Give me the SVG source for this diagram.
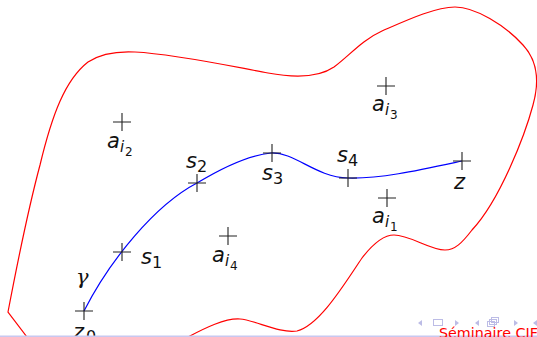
<svg xmlns="http://www.w3.org/2000/svg" width="537" height="337" viewBox="0 0 537 337">
<style>
.cr{stroke:#222;stroke-width:1.1;fill:none}
.m{font-family:"DejaVu Sans",sans-serif;font-style:italic;font-size:21px;fill:#111}
.s{font-family:"DejaVu Sans",sans-serif;font-size:16px;fill:#111}
.si{font-family:"DejaVu Sans",sans-serif;font-style:italic;font-size:15px;fill:#111}
.ss{font-family:"DejaVu Sans",sans-serif;font-size:12px;fill:#111}
.nav{fill:#bcbce6;stroke:none}
.navs{fill:none;stroke:#bcbce6;stroke-width:1}
</style>
<defs>
<path id="x" d="M-9 0H9M0-9V9"/>
</defs>
<rect width="537" height="337" fill="#fff"/>
<g id="region">
<path fill="none" stroke="#ff0000" stroke-width="1.2" d="M27 337 L8 312 C16 270 28 210 40 165 C52 115 65 80 88 62 C100 54 115 51 135 52 C175 54 230 66 268 73 C295 78 318 78 334 67 C350 55 362 40 382 31 C405 21 435 7 455 7 C475 7 505 25 523 45 C537 60 540 80 533 105 C525 135 500 200 472 230 C462 243 455 250 445 250 C430 250 410 235 394 235 C383 235 372 245 362 258 C345 283 320 325 297 331 C280 334 255 320 240 319 C225 318 205 328 188 337"/>
</g>
<g id="connectors">
<path id="gamma-path" fill="none" stroke="#0000ff" stroke-width="1.2" d="M84 311 C110 260 155 205 197 183 C225 166 250 155 271 153 C295 152 315 177 348 178 C380 179 420 170 462 161"/>
</g>
<g id="z0"><use href="#x" class="cr" transform="translate(84,311)"/><text class="m" x="73" y="339">z</text><text class="s" x="86" y="342">0</text></g>
<g id="gamma"><text x="76" y="284" font-family="DejaVu Serif, serif" font-style="italic" font-size="21" fill="#111">γ</text></g>
<g id="s1"><use href="#x" class="cr" transform="translate(122,252)"/><text class="m" x="141" y="264">s</text><text class="s" x="152" y="268">1</text></g>
<g id="s2"><use href="#x" class="cr" transform="translate(197,183)"/><text class="m" x="186" y="168">s</text><text class="s" x="197" y="172">2</text></g>
<g id="s3"><use href="#x" class="cr" transform="translate(272,153)"/><text class="m" x="262" y="180">s</text><text class="s" x="273" y="184">3</text></g>
<g id="s4"><use href="#x" class="cr" transform="translate(348,178)"/><text class="m" x="337" y="162">s</text><text class="s" x="348" y="166">4</text></g>
<g id="z"><use href="#x" class="cr" transform="translate(462,161)"/><text class="m" x="454" y="189">z</text></g>
<g id="ai1"><use href="#x" class="cr" transform="translate(387,198)"/><text class="m" x="372" y="223">a</text><text class="si" x="385" y="227">i</text><text class="ss" x="390" y="231">1</text></g>
<g id="ai2"><use href="#x" class="cr" transform="translate(122,122)"/><text class="m" x="107" y="148">a</text><text class="si" x="120" y="152">i</text><text class="ss" x="125" y="156">2</text></g>
<g id="ai3"><use href="#x" class="cr" transform="translate(386,86)"/><text class="m" x="372" y="111">a</text><text class="si" x="385" y="115">i</text><text class="ss" x="390" y="119">3</text></g>
<g id="ai4"><use href="#x" class="cr" transform="translate(228,236)"/><text class="m" x="212" y="262">a</text><text class="si" x="225" y="266">i</text><text class="ss" x="230" y="270">4</text></g>
<g id="footer">
<rect x="0" y="335.5" width="537" height="1.5" fill="#c8c8f0"/>
<path class="nav" d="M422 320 L418 323 L422 326Z"/>
<rect class="navs" x="433.5" y="319.5" width="9" height="6"/>
<path class="nav" d="M455 320 L459 323 L455 326Z"/>
<path class="nav" d="M479 320 L475 323 L479 326Z"/>
<rect class="navs" x="487.5" y="321.5" width="7" height="5"/>
<rect class="navs" x="489.5" y="319.5" width="7" height="5"/>
<rect class="navs" x="491.5" y="317.5" width="7" height="5"/>
<path class="nav" d="M514 320 L518 323 L514 326Z"/>
<path class="nav" d="M537 320 L533 323 L537 326Z"/>
<text x="439" y="337.5" font-family="DejaVu Sans, sans-serif" font-size="14.3" fill="#ff0000">Séminaire CIF</text>
</g>
</svg>
